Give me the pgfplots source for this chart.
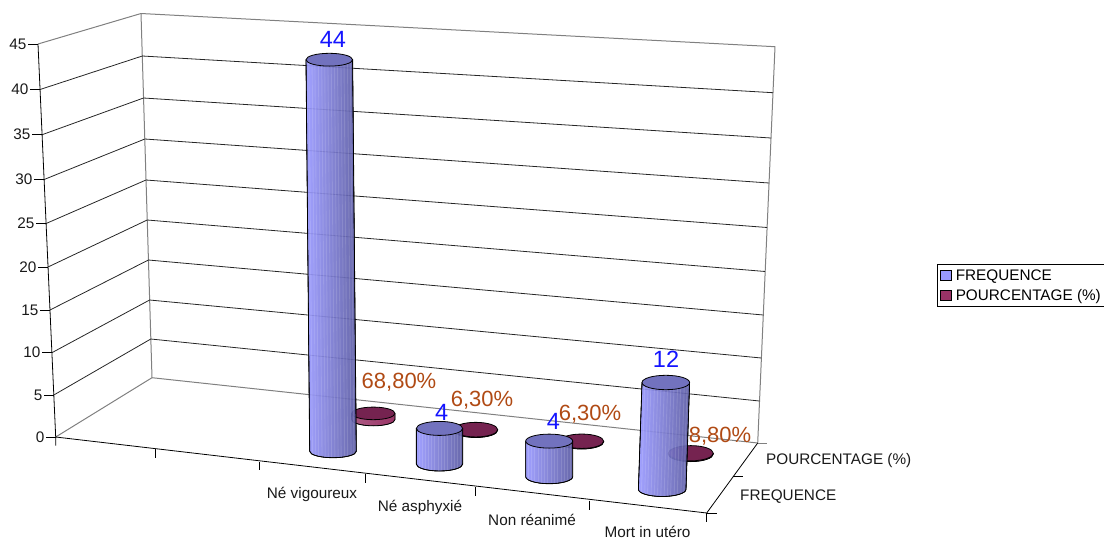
\documentclass[border=0pt]{standalone}
\usepackage{pgfplots}
\usepackage{fontspec}
\setmainfont{Liberation Sans}
\pgfplotsset{compat=1.18}
\definecolor{serA}{HTML}{9999FF}
\definecolor{serAdark}{HTML}{5C5CA4}
\definecolor{serAtop}{HTML}{7272BE}
\definecolor{serB}{HTML}{993366}
\definecolor{serBtop}{HTML}{752350}
\definecolor{wall}{HTML}{808080}
\definecolor{valblue}{HTML}{1414FF}
\definecolor{valbrown}{HTML}{B04A14}
\newcommand{\lab}{\fontsize{15.3}{18}\selectfont}
% Perspective cylinder drawn around its data point: base ellipse at the point,
% top ellipse 8.9pt higher per data unit. Lengths carry units so that they
% do not follow the axis's own (reversed) unit vectors.
\newcommand{\cylsize}{%
  \pgfmathsetmacro{\hh}{\val*8.9}%
  \pgfmathsetmacro{\ox}{\topdx}%
  \pgfmathsetmacro{\rxx}{\rx}%
  \pgfmathsetmacro{\ryy}{\ry}%
}
\newcommand{\cylpath}{%
  (-\rxx pt,0pt) arc[start angle=180,end angle=360,x radius=\rxx pt,y radius=\ryy pt]
  -- (\ox pt+\rxx pt,\hh pt) -- (\ox pt-\rxx pt,\hh pt) -- cycle
}
\newcommand{\cyloutline}{%
  \draw[black,line width=0.8pt]
    (-\rxx pt,0pt) arc[start angle=180,end angle=360,x radius=\rxx pt,y radius=\ryy pt]
    -- (\ox pt+\rxx pt,\hh pt) (\ox pt-\rxx pt,\hh pt) -- (-\rxx pt,0pt);
}
\pgfdeclareplotmark{cylA}{%
  \cylsize
  \shade[fill opacity=0.92,left color=serA,middle color=serA!60!serAdark,right color=serAdark] \cylpath;
  \begin{scope}
    \clip \cylpath;
    \foreach \s in {-0.88,-0.74,-0.62,-0.47,-0.33,-0.2,-0.06,0.08,0.22,0.35,0.5,0.63,0.78,0.9}
      \draw[white,opacity=0.13,line width=0.9pt] (\s*\rxx pt,-\ryy pt) -- (\ox pt+\s*\rxx pt,\hh pt);
  \end{scope}
  \cyloutline
  \draw[black,line width=0.8pt,fill=serAtop] (\ox pt,\hh pt) ellipse[x radius=\rxx pt,y radius=\ryy pt];
}
\pgfdeclareplotmark{cylB}{%
  \cylsize
  \shade[left color=serB!80!white,right color=serB] \cylpath;
  \cyloutline
  \draw[black,line width=0.8pt,fill=serBtop] (\ox pt,\hh pt) ellipse[x radius=\rxx pt,y radius=\ryy pt];
}
\pgfplotsset{cylinder series/.style={
  forget plot, scatter, only marks, point meta=\thisrow{val},
  scatter/use mapped color={draw=black,fill=black},
  visualization depends on={\thisrow{val} \as \val},
  visualization depends on={\thisrow{rx} \as \rx},
  visualization depends on={\thisrow{ry} \as \ry},
  visualization depends on={\thisrow{topdx} \as \topdx},
}}
\begin{document}
\begin{tikzpicture}
\path[use as bounding box] (0,0) rectangle (1104pt,539pt);
\begin{axis}[
  at={(0,0)}, anchor=south west,
  width=1104pt, height=539pt, scale only axis,
  xmin=0, xmax=1104, ymin=0, ymax=539, y dir=reverse,
  hide axis, clip=false,
  legend style={at={(axis cs:936.7,264)}, anchor=north west, draw=black,
    line width=0.7pt, inner xsep=3pt, inner ysep=4pt, row sep=5.5pt,
    font=\lab, cells={anchor=west},
    nodes={inner xsep=1pt, inner ysep=1pt}},
]
% back walls and floor edges
\addplot[forget plot,wall,line width=1pt] coordinates {(38,44) (141,13.5) (775,46.7)};
\addplot[forget plot,wall,line width=1pt] coordinates {(141,13.5) (152,377.7)};
\addplot[forget plot,wall,line width=1pt] coordinates {(775,46.7) (757.7,443)};
\addplot[forget plot,wall,line width=1pt] coordinates {(55.7,437) (152,377.7) (757.7,443)};
% gridlines, from 40 down to 5
\addplot[forget plot,black!85,line width=0.8pt] coordinates {(40.05,89.5) (142.3,56) (773,92.7)};
\addplot[forget plot,black!85,line width=0.8pt] coordinates {(42.1,134.7) (143.5,98) (771,138)};
\addplot[forget plot,black!85,line width=0.8pt] coordinates {(44.1,179.5) (144.8,139) (769,183)};
\addplot[forget plot,black!85,line width=0.8pt] coordinates {(46.1,223.5) (146,180) (767.1,227.5)};
\addplot[forget plot,black!85,line width=0.8pt] coordinates {(48,267) (147.2,220) (765.2,271.5)};
\addplot[forget plot,black!85,line width=0.8pt] coordinates {(50,310) (148.4,260) (763.3,315)};
\addplot[forget plot,black!85,line width=0.8pt] coordinates {(51.9,352.7) (149.6,300) (761.4,358)};
\addplot[forget plot,black!85,line width=0.8pt] coordinates {(53.8,395) (150.8,339) (759.5,401)};
% value axis with its ticks
\addplot[forget plot,black,line width=0.8pt] coordinates {(38,44) (55.7,437) (55.7,445.7)};
\addplot[forget plot,black,line width=0.8pt] coordinates {(28,44) (38,44)};
\addplot[forget plot,black,line width=0.8pt] coordinates {(30,89.5) (40.05,89.5)};
\addplot[forget plot,black,line width=0.8pt] coordinates {(32,134.7) (42.1,134.7)};
\addplot[forget plot,black,line width=0.8pt] coordinates {(34,179.5) (44.1,179.5)};
\addplot[forget plot,black,line width=0.8pt] coordinates {(36,223.5) (46.1,223.5)};
\addplot[forget plot,black,line width=0.8pt] coordinates {(38,267) (48,267)};
\addplot[forget plot,black,line width=0.8pt] coordinates {(40,310) (50,310)};
\addplot[forget plot,black,line width=0.8pt] coordinates {(42,352.7) (51.9,352.7)};
\addplot[forget plot,black,line width=0.8pt] coordinates {(44,395) (53.8,395)};
\addplot[forget plot,black,line width=0.8pt] coordinates {(46,437) (55.7,437)};
% floor front edges and category ticks
\addplot[forget plot,black,line width=0.8pt] coordinates {(55.7,437) (706.7,513) (757.7,443)};
\addplot[forget plot,black,line width=0.8pt] coordinates {(155,449) (155,458)};
\addplot[forget plot,black,line width=0.8pt] coordinates {(259,461.5) (259,470)};
\addplot[forget plot,black,line width=0.8pt] coordinates {(365.3,474) (365.3,483)};
\addplot[forget plot,black,line width=0.8pt] coordinates {(475.7,486.7) (475.7,495.7)};
\addplot[forget plot,black,line width=0.8pt] coordinates {(589,500.7) (589,509.6)};
\addplot[forget plot,black,line width=0.8pt] coordinates {(706.7,513) (706.7,522)};
\addplot[forget plot,black,line width=0.8pt] coordinates {(706.7,513) (716.7,513)};
\addplot[forget plot,black,line width=0.8pt] coordinates {(733,476.7) (742.7,476.7)};
\addplot[forget plot,wall,line width=0.8pt] coordinates {(757.7,443) (766.7,443)};

% series POURCENTAGE (%): flat cylinders behind the front row
\addplot[cylinder series,mark=cylB] table[x=cx,y=cy] {
cx    cy    val    rx    ry   topdx
373.3 419.5 0.688  21.7  6.3  0
475.7 430.2 0.063  22    7.3  0
581.7 441.8 0.063  22    7.2  0
690.8 454   0.088  22.5  7.6  0
};
% series FREQUENCE
\addplot[cylinder series,mark=cylA] table[x=cx,y=cy] {
cx    cy    val  rx    ry   topdx
333   451.3 44   23.3  6.4  -3.7
439.5 464   4    23.2  7    0
549.2 476.7 4    23.5  7    0
662.2 489.3 12   23.8  7.2  3.6
};

% value labels
\node[text=valblue,font=\fontsize{23.5}{26}\selectfont] at (axis cs:333,39) {44};
\node[text=valblue,font=\fontsize{23.5}{26}\selectfont] at (axis cs:441.7,412) {4};
\node[text=valblue,font=\fontsize{23.5}{26}\selectfont] at (axis cs:553.3,421.7) {4};
\node[text=valblue,font=\fontsize{23.5}{26}\selectfont] at (axis cs:666,359) {12};
\node[text=valbrown,font=\fontsize{22}{25}\selectfont] at (axis cs:399,382) {68,80\%};
\node[text=valbrown,font=\fontsize{22}{25}\selectfont] at (axis cs:482,400.7) {6,30\%};
\node[text=valbrown,font=\fontsize{22}{25}\selectfont] at (axis cs:590,414) {6,30\%};
\node[text=valbrown,font=\fontsize{22}{25}\selectfont] at (axis cs:720,436.7) {8,80\%};

% value axis numbers
\node[anchor=east,inner sep=0pt,font=\lab,text=black!90] at (axis cs:26.5,44) {45};
\node[anchor=east,inner sep=0pt,font=\lab,text=black!90] at (axis cs:28.5,89.5) {40};
\node[anchor=east,inner sep=0pt,font=\lab,text=black!90] at (axis cs:30.5,134.7) {35};
\node[anchor=east,inner sep=0pt,font=\lab,text=black!90] at (axis cs:32.5,179.5) {30};
\node[anchor=east,inner sep=0pt,font=\lab,text=black!90] at (axis cs:34.5,223.5) {25};
\node[anchor=east,inner sep=0pt,font=\lab,text=black!90] at (axis cs:36.5,267) {20};
\node[anchor=east,inner sep=0pt,font=\lab,text=black!90] at (axis cs:38.5,310) {15};
\node[anchor=east,inner sep=0pt,font=\lab,text=black!90] at (axis cs:40.5,352.7) {10};
\node[anchor=east,inner sep=0pt,font=\lab,text=black!90] at (axis cs:42.5,395) {5};
\node[anchor=east,inner sep=0pt,font=\lab,text=black!90] at (axis cs:44.5,437) {0};

% category and series names
\node[inner sep=0pt,font=\lab,text=black!90] at (axis cs:312,494) {Né vigoureux};
\node[inner sep=0pt,font=\lab,text=black!90] at (axis cs:420,507) {Né asphyxié};
\node[inner sep=0pt,font=\lab,text=black!90] at (axis cs:532,519.5) {Non réanimé};
\node[inner sep=0pt,font=\lab,text=black!90] at (axis cs:647.5,532) {Mort in utéro};
\node[anchor=west,inner sep=0pt,font=\lab,text=black!90] at (axis cs:766,461) {POURCENTAGE (\%)};
\node[anchor=west,inner sep=0pt,font=\lab,text=black!90] at (axis cs:740,497) {FREQUENCE};

\addlegendimage{legend image code/.code={\draw[black,line width=0.7pt,fill=serA] (0pt,-4.7pt) rectangle (10.6pt,4.7pt); \path (14pt,0pt);}}
\addlegendentry{FREQUENCE}
\addlegendimage{legend image code/.code={\draw[black,line width=0.7pt,fill=serB] (0pt,-4.7pt) rectangle (10.6pt,4.7pt); \path (14pt,0pt);}}
\addlegendentry{POURCENTAGE (\%)}
\end{axis}
\end{tikzpicture}
\end{document}
